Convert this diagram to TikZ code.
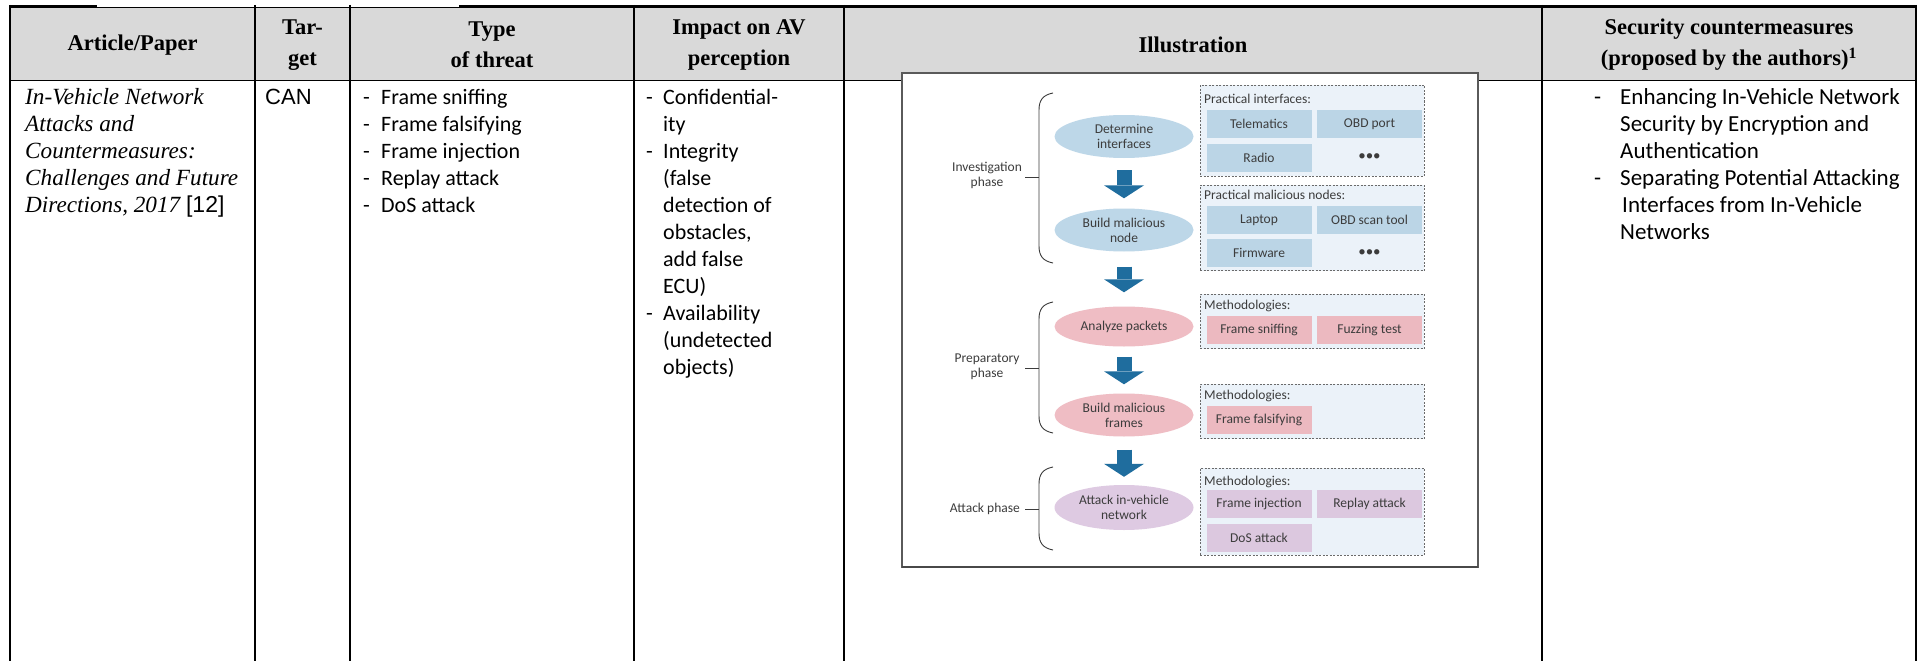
\documentclass[tikz,border=0pt]{standalone}
\usepackage{fontspec}
\setmainfont{Liberation Serif}
\newfontfamily\calfont{Carlito}
\newfontfamily\arfont{Liberation Sans}
\usetikzlibrary{shapes.geometric,arrows.meta}

\definecolor{hdrgray}{HTML}{D9D9D9}
\definecolor{ink}{HTML}{3C3C3C}
\definecolor{bluefill}{HTML}{BDD7E8}
\definecolor{bluecell}{HTML}{BBD5E6}
\definecolor{pinkfill}{HTML}{EFBDC4}
\definecolor{pinkcell}{HTML}{ECB9C0}
\definecolor{lilacfill}{HTML}{DECAE2}
\definecolor{lilaccell}{HTML}{DCC8DF}
\definecolor{boxbg}{HTML}{EBF2F9}
\definecolor{boxline}{HTML}{6A6A6A}
\definecolor{arrowblue}{HTML}{1F6D9E}
\definecolor{framegray}{HTML}{5A5A5A}

% one node per text line, 27 units apart
\newcommand\textlines[5]{%
  \foreach \s [count=\i] in {#5} {
    \node[#4] (#1\i) at ({#2},{#3+27*(\i-1)}) {\s};
  }%
}

\tikzset{
  gridline/.style={line width=2.2pt, black},
  hdr/.style={font=\fontsize{22.5}{31}\selectfont\bfseries, align=center, inner sep=0pt},
  body/.style={font=\calfont\fontsize{22}{27}\selectfont, anchor=base west, inner sep=0pt},
  bodylarge/.style={body, font=\calfont\fontsize{23}{27}\selectfont},
  ital/.style={font=\fontsize{23.2}{27}\selectfont\itshape, anchor=base west, inner sep=0pt},
  illu/.style={font=\calfont\fontsize{13.5}{15}\selectfont, text=ink, align=center, inner sep=0pt},
  phase/.style={ellipse, illu, minimum width=139pt, minimum height=43pt},
  dbox/.style={draw=boxline, fill=boxbg, dash pattern=on 2pt off 1.5pt, line width=0.8pt, inner sep=0pt},
  cell/.style={illu, minimum width=105pt, minimum height=28pt},
  lbl/.style={illu, anchor=base west},
  brace/.style={draw=ink, line width=0.9pt},
  blockarrow/.style={draw=arrowblue, line width=15pt, -{Triangle[width=40pt,length=13pt,line width=0pt]}},
}

\begin{document}
\begin{tikzpicture}[x=1pt, y=-1pt]
\useasboundingbox (0,0) rectangle (1923,661);

% ---------- table frame ----------
\fill[hdrgray] (10,7) rectangle (1916,80);
\draw[line width=0.9pt] (10,7.2) -- (1916,7.2);
\draw[line width=2.4pt] (10,6.2) -- (97,6.2);
\draw[line width=2.4pt] (459,6.2) -- (1916,6.2);
\draw[line width=1.6pt] (10,80.5) -- (1916,80.5);
\foreach \x in {10,255,350,634,844,1542,1916}
  \draw[gridline] (\x,5) -- (\x,661);

% ---------- header ----------
\node[hdr] (hpaper)  at (132.5,45) {Article/Paper};
\node[hdr] (htarget) at (302.5,45) {Tar-\\get};
\node[hdr] (hthreat) at (492,45) {Type\\of threat};
\node[hdr] (himpact) at (739,45) {Impact on AV\\perception};
\node[hdr] (hillu)   at (1193,45) {Illustration};
\node[hdr] (hcm)     at (1729,45) {Security countermeasures\\(proposed by the authors)\textsuperscript{1}};

% ---------- article ----------
\textlines{title}{25}{104}{ital}{In-Vehicle Network, Attacks and, Countermeasures:, Challenges and Future, {Directions, 2017 {\upshape\arfont\fontsize{23}{27}\selectfont [12]}}}

% ---------- target ----------
\node[body, font=\arfont\fontsize{22}{27}\selectfont] (can) at (265,104) {CAN};

% ---------- type of threat ----------
\textlines{tdash}{363}{104}{body}{-,-,-,-,-}
\textlines{threat}{381}{104}{body}{Frame sniffing, Frame falsifying, Frame injection, Replay attack, DoS attack}

% ---------- impact ----------
\node[body] (idash1) at (646,104) {-};
\node[body] (idash2) at (646,158) {-};
\node[body] (idash3) at (646,320) {-};
\textlines{impact}{663}{104}{body}{Confidential-, ity, Integrity, {(false}, detection of, {obstacles,}, add false, ECU), Availability, {(undetected}, objects)}

% ---------- countermeasures ----------
\node[bodylarge] (cdash1) at (1594,104) {-};
\node[bodylarge] (cdash2) at (1594,185) {-};
\textlines{cma}{1620}{104}{bodylarge}{Enhancing In-Vehicle Network, Security by Encryption and, Authentication, Separating Potential Attacking}
\node[bodylarge] (cmb1) at (1622,212) {Interfaces from In-Vehicle};
\node[bodylarge] (cmb2) at (1620,239) {Networks};

% ---------- illustration ----------
\fill[white] (902,73) rectangle (1478,567);
\draw[framegray, line width=1.2pt] (902,73) rectangle (1478,567);
\draw[framegray!80!black, line width=1.8pt] (902,566.6) -- (1478,566.6);

% phase braces
\draw[brace] (1053,93) .. controls (1043,95) and (1039,100) .. (1039,110) -- (1039,246) .. controls (1039,256) and (1043,261) .. (1053,263);
\draw[brace] (1025,177) -- (1039,177);
\draw[brace] (1053,302) .. controls (1043,304) and (1039,309) .. (1039,319) -- (1039,416) .. controls (1039,426) and (1043,431) .. (1053,433);
\draw[brace] (1025,368) -- (1039,368);
\draw[brace] (1053,467) .. controls (1043,469) and (1039,474) .. (1039,484) -- (1039,533) .. controls (1039,543) and (1043,548) .. (1053,550);
\draw[brace] (1025,509) -- (1039,509);

\node[illu] (pinv) at (987,175.5) {Investigation\\phase};
\node[illu] (pprep) at (987,367) {Preparatory\\phase};
\node[illu, anchor=east] (patt) at (1020,509) {Attack phase};

% steps
\node[phase, fill=bluefill] (e1) at (1124,136.5) {Determine\\interfaces};
\node[phase, fill=bluefill] (e2) at (1124,230) {Build malicious\\node};
\node[phase, fill=pinkfill, minimum height=40pt] (e3) at (1124,326.5) {Analyze packets};
\node[phase, fill=pinkfill] (e4) at (1124,415) {Build malicious\\frames};
\node[phase, fill=lilacfill, minimum height=45pt] (e5) at (1124,507.5) {Attack in-vehicle\\network};

\draw[blockarrow] ([yshift=-12pt]e1.south) -- ([yshift=10pt]e2.north);
\draw[blockarrow] ([yshift=-15pt]e2.south) -- ([yshift=14pt]e3.north);
\draw[blockarrow] ([yshift=-10pt]e3.south) -- ([yshift=9pt]e4.north);
\draw[blockarrow] ([yshift=-13pt]e4.south) -- ([yshift=8pt]e5.north);

% option boxes
\node[dbox, minimum width=224pt, minimum height=91pt] (b1) at (1312,130.5) {};
\node[lbl] (b1t) at (1204,103) {Practical interfaces:};
\node[cell, fill=bluecell] (b1a) at (1259,124.3) {Telematics};
\node[cell, fill=bluecell] (b1b) at (1369.5,124.3) {OBD port};
\node[cell, fill=bluecell] (b1c) at (1259,157.5) {Radio};
\node[cell, font=\calfont\fontsize{15}{15}\selectfont] (b1d) at (1369.5,157.5) {\textbullet\textbullet\textbullet};

\node[dbox, minimum width=224pt, minimum height=85.5pt] (b2) at (1312,227.75) {};
\node[lbl] (b2t) at (1204,199.5) {Practical malicious nodes:};
\node[cell, fill=bluecell] (b2a) at (1259,220) {Laptop};
\node[cell, fill=bluecell] (b2b) at (1369.5,220) {OBD scan tool};
\node[cell, fill=bluecell] (b2c) at (1259,252.8) {Firmware};
\node[cell, font=\calfont\fontsize{15}{15}\selectfont] (b2d) at (1369.5,252.8) {\textbullet\textbullet\textbullet};

\node[dbox, minimum width=224pt, minimum height=54.5pt] (b3) at (1312,321.25) {};
\node[lbl] (b3t) at (1204,309) {Methodologies:};
\node[cell, fill=pinkcell] (b3a) at (1259,330) {Frame sniffing};
\node[cell, fill=pinkcell] (b3b) at (1369.5,330) {Fuzzing test};

\node[dbox, minimum width=224pt, minimum height=54.5pt] (b4) at (1312,411.25) {};
\node[lbl] (b4t) at (1204,399) {Methodologies:};
\node[cell, fill=pinkcell] (b4a) at (1259,419.5) {Frame falsifying};

\node[dbox, minimum width=224pt, minimum height=87pt] (b5) at (1312,511.5) {};
\node[lbl] (b5t) at (1204,485.5) {Methodologies:};
\node[cell, fill=lilaccell] (b5a) at (1259,504.3) {Frame injection};
\node[cell, fill=lilaccell] (b5b) at (1369.5,504.3) {Replay attack};
\node[cell, fill=lilaccell] (b5c) at (1259,538.3) {DoS attack};
\end{tikzpicture}
\end{document}
